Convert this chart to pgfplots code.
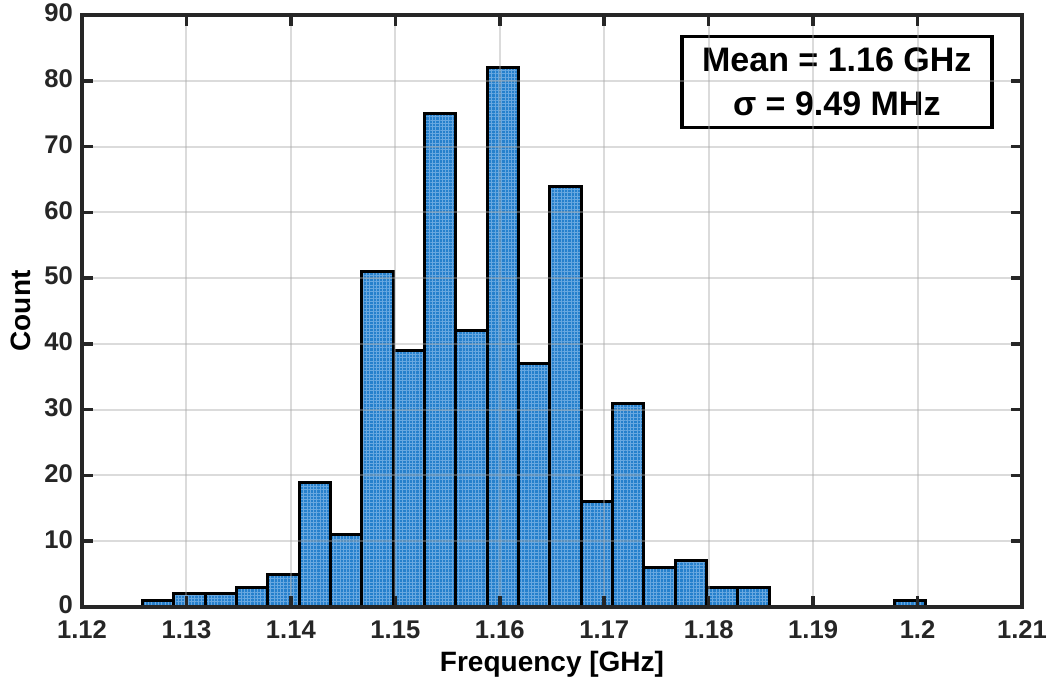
\documentclass[border=0pt]{standalone}
\usepackage{fontspec}
\setmainfont{Liberation Sans}
\usepackage{pgfplots}
\pgfplotsset{compat=1.18}
\usetikzlibrary{patterns.meta}

\definecolor{barblue}{RGB}{38,128,204}
\definecolor{meshblue}{RGB}{105,168,224}
\definecolor{axgray}{RGB}{38,38,38}

\begin{document}
\begin{tikzpicture}
\path[use as bounding box] (-41pt,-37pt) rectangle (484.5pt,303.5pt);
\begin{axis}[
    at={(0,0)}, anchor=south west,
    scale only axis,
    width=470pt, height=296pt,
    xmin=1.12, xmax=1.21,
    ymin=0, ymax=90,
    xtick={1.12,1.13,1.14,1.15,1.16,1.17,1.18,1.19,1.2,1.21},
    xticklabels={1.12,1.13,1.14,1.15,1.16,1.17,1.18,1.19,1.2,1.21},
    ytick={0,10,...,90},
    tick align=inside,
    ticks=both,
    xtick pos=both, ytick pos=both,
    major tick length=5.5pt,
    tick style={axgray, line width=1.8pt},
    axis line style={axgray, line width=1.8pt},
    grid=major,
    major grid style={gray!70, opacity=0.4, line width=1pt},
    axis on top,
    /pgf/number format/assume math mode=true,
    ticklabel style={font=\fontsize{12.8}{12.8}\selectfont\bfseries, text=axgray},
    xticklabel style={yshift=-3.5pt},
    yticklabel style={xshift=-1pt, yshift=1pt},
    xlabel={Frequency [GHz]},
    ylabel={Count},
    label style={font=\fontsize{14}{14}\selectfont\bfseries},
    xlabel style={yshift=1pt},
    ylabel style={yshift=0pt},
]
\addplot[ybar interval, draw=black, line width=1.5pt, fill=barblue,
    postaction={pattern={Hatch[angle=0,distance=1.65pt,line width=0.35pt]}, pattern color=meshblue}]
  table {
x y
1.1258 1
1.1288 2
1.1318 2
1.1348 3
1.1378 5
1.1408 19
1.1438 11
1.1468 51
1.1498 39
1.1528 75
1.1558 42
1.1588 82
1.1618 37
1.1648 64
1.1678 16
1.1708 31
1.1738 6
1.1768 7
1.1798 3
1.1828 3
1.1858 0
1.1888 0
1.1918 0
1.1948 0
1.1978 1
1.2008 1
};
\node[draw=black, line width=1.8pt, fill=white, align=center,
      minimum width=155pt, minimum height=45.5pt, inner sep=0pt,
      font=\fontsize{17}{22}\selectfont\bfseries]
  at (rel axis cs:0.803,0.887) {Mean = 1.16 GHz\\σ = 9.49 MHz};
\end{axis}
\end{tikzpicture}
\end{document}
